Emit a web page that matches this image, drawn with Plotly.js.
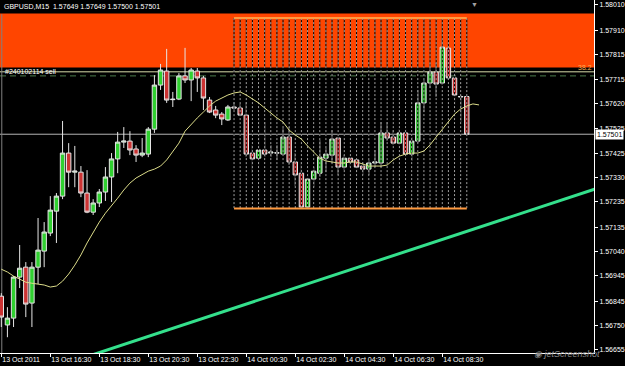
<!DOCTYPE html>
<html><head><meta charset="utf-8">
<script src="https://cdn.plot.ly/plotly-3.0.1.min.js"></script>
<style>html,body{margin:0;padding:0;background:#000;}#chart{width:625px;height:366px;}</style>
</head><body><div id="chart"></div>
<script>
const symbol = 'GBPUSD';
const timeframe = 'M15';
const day13Times = ['14:30','14:45','15:00','15:15','15:30','15:45','16:00','16:15','16:30','16:45','17:00','17:15','17:30','17:45','18:00','18:15','18:30','18:45','19:00','19:15','19:30','19:45','20:00','20:15','20:30','20:45','21:00','21:15','21:30','21:45','22:00','22:15','22:30','22:45','23:00','23:15','23:30','23:45'];
const day14Times = ['00:00','00:15','00:30','00:45','01:00','01:15','01:30','01:45','02:00','02:15','02:30','02:45','03:00','03:15','03:30','03:45','04:00','04:15','04:30','04:45','05:00','05:15','05:30','05:45','06:00','06:15','06:30','06:45','07:00','07:15','07:30','07:45','08:00','08:15','08:30','08:45','09:00','09:15','09:30'];
const maExtraTimes = ['2011-10-14 09:45','2011-10-14 10:00'];

const openPrices = [1.56865,1.56752,1.56779,1.56940,1.56979,1.56838,1.56979,1.57042,1.57113,1.57199,
1.57258,1.57427,1.57352,1.57352,1.57270,1.57195,1.57231,1.57274,1.57333,1.57404,
1.57470,1.57474,1.57443,1.57419,1.57423,1.57521,1.57694,1.57749,1.57639,1.57639,
1.57730,1.57714,1.57749,1.57722,1.57635,1.57596,1.57580,1.57557,1.57608,1.57604,
1.57576,1.57427,1.57407,1.57439,1.57427,1.57427,1.57423,1.57490,1.57392,1.57348,
1.57215,1.57325,1.57348,1.57407,1.57419,1.57486,1.57372,1.57407,1.57400,1.57376,
1.57364,1.57388,1.57388,1.57506,1.57490,1.57466,1.57506,1.57423,1.57474,1.57624,
1.57702,1.57745,1.57702,1.57839,1.57722,1.57647,1.57649];
const highPrices = [1.56877,1.56822,1.56944,1.57066,1.56999,1.56999,1.57172,1.57156,1.57258,1.57270,
1.57553,1.57466,1.57455,1.57376,1.57360,1.57246,1.57286,1.57372,1.57427,1.57510,
1.57529,1.57513,1.57458,1.57486,1.57529,1.57733,1.57777,1.57836,1.57667,1.57741,
1.57840,1.57761,1.57761,1.57730,1.57647,1.57612,1.57588,1.57616,1.57627,1.57620,
1.57627,1.57458,1.57557,1.57549,1.57458,1.57458,1.57525,1.57529,1.57427,1.57392,
1.57348,1.57372,1.57478,1.57447,1.57517,1.57490,1.57419,1.57411,1.57407,1.57392,
1.57400,1.57439,1.57549,1.57549,1.57517,1.57521,1.57521,1.57490,1.57675,1.57714,
1.57781,1.57781,1.57871,1.57851,1.57765,1.57655,1.57649];
const lowPrices = [1.56744,1.56704,1.56744,1.56897,1.56783,1.56744,1.56913,1.56979,1.57101,1.57074,
1.57246,1.57293,1.57293,1.57254,1.57191,1.57184,1.57215,1.57239,1.57235,1.57348,
1.57447,1.57419,1.57392,1.57411,1.57411,1.57506,1.57675,1.57624,1.57608,1.57635,
1.57702,1.57631,1.57667,1.57596,1.57584,1.57564,1.57537,1.57553,1.57596,1.57572,
1.57411,1.57348,1.57376,1.57411,1.57411,1.57400,1.57419,1.57380,1.57297,1.57211,
1.57211,1.57293,1.57333,1.57352,1.57388,1.57341,1.57360,1.57372,1.57352,1.57341,
1.57341,1.57372,1.57372,1.57474,1.57458,1.57458,1.57411,1.57396,1.57466,1.57588,
1.57682,1.57647,1.57694,1.57714,1.57616,1.57549,1.57500];
const closePrices = [1.56783,1.56779,1.56940,1.56975,1.56834,1.56979,1.57046,1.57117,1.57203,1.57258,
1.57427,1.57352,1.57356,1.57270,1.57195,1.57231,1.57274,1.57333,1.57404,1.57470,
1.57474,1.57439,1.57419,1.57427,1.57521,1.57694,1.57753,1.57635,1.57637,1.57730,
1.57714,1.57753,1.57722,1.57643,1.57588,1.57576,1.57561,1.57608,1.57604,1.57576,
1.57423,1.57404,1.57439,1.57423,1.57431,1.57428,1.57490,1.57392,1.57341,1.57215,
1.57325,1.57356,1.57411,1.57423,1.57482,1.57372,1.57407,1.57392,1.57372,1.57364,
1.57388,1.57392,1.57506,1.57486,1.57466,1.57506,1.57423,1.57474,1.57624,1.57702,
1.57745,1.57698,1.57843,1.57722,1.57655,1.57649,1.57501];
const maValues = [1.56971,1.56960,1.56944,1.56932,1.56920,1.56916,1.56913,1.56909,1.56901,1.56905,
1.56924,1.56952,1.56987,1.57027,1.57074,1.57117,1.57156,1.57191,1.57219,1.57250,
1.57282,1.57309,1.57329,1.57341,1.57356,1.57364,1.57376,1.57400,1.57431,1.57466,
1.57513,1.57541,1.57565,1.57588,1.57612,1.57631,1.57643,1.57655,1.57663,1.57667,
1.57655,1.57639,1.57624,1.57604,1.57584,1.57565,1.57549,1.57517,1.57498,1.57482,
1.57455,1.57431,1.57407,1.57396,1.57392,1.57388,1.57388,1.57392,1.57392,1.57384,
1.57376,1.57376,1.57376,1.57380,1.57400,1.57415,1.57423,1.57427,1.57427,1.57435,
1.57459,1.57490,1.57521,1.57553,1.57580,1.57600,1.57612,1.57620,1.57616];

const trendTimes = ['2011-10-13 17:30','2011-10-14 15:30'];
const trendPrices = [1.56612, 1.57310];
const zoneTop = 1.57975, zoneBottom = 1.57763;
const fiboLevel = 1.57746, fiboLabel = '38.2';
const orderPrice = 1.57730, orderLabel = '#240102114 sell';
const gridTop = 1.57957, gridBottom = 1.57209, gridFirstBar = 38;

const yTickVals = [1.58010,1.57910,1.57815,1.57715,1.57620,1.57525,1.57425,1.57330,1.57235,1.57135,1.57040,1.56945,1.56845,1.56750,1.56655];
const xTickTimes = ['2011-10-13 14:30','2011-10-13 16:30','2011-10-13 18:30','2011-10-13 20:30','2011-10-13 22:30','2011-10-14 00:30','2011-10-14 02:30','2011-10-14 04:30','2011-10-14 06:30','2011-10-14 08:30'];
const xTickText = ['13 Oct 2011','13 Oct 16:30','13 Oct 18:30','13 Oct 20:30','13 Oct 22:30','14 Oct 00:30','14 Oct 02:30','14 Oct 04:30','14 Oct 06:30','14 Oct 08:30'];

const barTimes = day13Times.map(t => '2011-10-13 ' + t).concat(day14Times.map(t => '2011-10-14 ' + t));
const last = closePrices.length - 1;
const FONT = 'Liberation Sans, Arial, sans-serif';

const gx = [], gy = [];
for (let i = gridFirstBar; i <= last; i++) { gx.push(barTimes[i], barTimes[i], null); gy.push(gridTop, gridBottom, null); }

const traces = [
  { type: 'candlestick', x: barTimes, open: openPrices, high: highPrices, low: lowPrices, close: closePrices,
    increasing: { line: { color: '#e6e6e6', width: 1 }, fillcolor: '#30d030' },
    decreasing: { line: { color: '#e6e6e6', width: 1 }, fillcolor: '#cc3333' },
    whiskerwidth: 0, hoverinfo: 'skip', showlegend: false },
  { type: 'scatter', mode: 'lines', x: gx, y: gy, line: { color: '#000', width: 1 }, hoverinfo: 'skip', showlegend: false },
  { type: 'scatter', mode: 'lines', x: gx, y: gy, line: { color: '#a0a0a0', width: 1, dash: '2px,2px' }, hoverinfo: 'skip', showlegend: false },
  { type: 'scatter', mode: 'lines', x: [barTimes[gridFirstBar], barTimes[last], null, barTimes[gridFirstBar], barTimes[last]],
    y: [gridTop, gridTop, null, gridBottom, gridBottom], line: { color: '#ff9a40', width: 2 }, hoverinfo: 'skip', showlegend: false },
  { type: 'scatter', mode: 'lines', x: barTimes.concat(maExtraTimes), y: maValues, line: { color: '#dcdc8a', width: 1 }, hoverinfo: 'skip', showlegend: false },
  { type: 'scatter', mode: 'lines', x: trendTimes, y: trendPrices, line: { color: '#34e08c', width: 3 }, hoverinfo: 'skip', showlegend: false }
];

const layout = {
  width: 625, height: 366,
  paper_bgcolor: '#000', plot_bgcolor: '#000',
  margin: { l: 0, r: 31, t: 0, b: 13, pad: 0 },
  showlegend: false,
  boxgap: 0.2, boxgroupgap: 0.1,
  title: { text: symbol + ',' + timeframe + '\u00a0 ' + [openPrices[last], highPrices[last], lowPrices[last], closePrices[last]].map(v => v.toFixed(5)).join(' '),
    font: { family: FONT, size: 7, color: '#ffffff' }, x: 4 / 625, xanchor: 'left', xref: 'container', y: 1 - 7 / 366, yanchor: 'middle', yref: 'container' },
  xaxis: { type: 'date', range: ['2011-10-13 14:26:49', '2011-10-14 14:41:33'], tickmode: 'array', tickvals: xTickTimes, ticktext: xTickText,
    ticks: 'outside', ticklen: 3, tickcolor: '#ffffff', showline: true, linecolor: '#ffffff', linewidth: 1, showgrid: false, zeroline: false,
    tickangle: 0, automargin: false,
    ticklabelposition: 'outside right', tickfont: { family: FONT, size: 7, color: '#ffffff' }, rangeslider: { visible: false }, fixedrange: true },
  yaxis: { side: 'right', range: [1.56642, 1.58028], tickmode: 'array', tickvals: yTickVals, ticktext: yTickVals.map(v => v.toFixed(5)),
    ticks: 'outside', ticklen: 3, tickcolor: '#ffffff', showline: true, linecolor: '#ffffff', linewidth: 1, showgrid: false, zeroline: false,
    automargin: false, tickfont: { family: FONT, size: 7, color: '#ffffff' }, fixedrange: true },
  shapes: [
    { type: 'rect', xref: 'paper', x0: 0, x1: 1, yref: 'y', y0: zoneBottom, y1: zoneTop, fillcolor: '#ff4500', line: { width: 0 }, layer: 'below' },
    { type: 'line', xref: 'paper', x0: 0, x1: 1, yref: 'y', y0: closePrices[last], y1: closePrices[last], line: { color: '#b4b4b4', width: 1 }, layer: 'below' },
    { type: 'line', xref: 'paper', x0: 0, x1: 1, yref: 'y', y0: fiboLevel, y1: fiboLevel, line: { color: '#d8dcaa', width: 1 }, layer: 'below' },
    { type: 'line', xref: 'paper', x0: 0, x1: 1, yref: 'y', y0: orderPrice, y1: orderPrice, line: { color: '#4c7c4c', width: 1, dash: '6px,4px' }, layer: 'below' },
    { type: 'line', xref: 'paper', x0: 0.003, x1: 0.003, yref: 'paper', y0: 0, y1: 0.96, line: { color: '#808080', width: 1 }, layer: 'below' }
  ],
  annotations: [
    { xref: 'paper', x: 1, xanchor: 'left', xshift: 1, yref: 'y', y: closePrices[last], yanchor: 'middle', text: closePrices[last].toFixed(5),
      bgcolor: '#ffffff', font: { family: FONT, size: 7, color: '#000000' }, showarrow: false, borderpad: 1 },
    { xref: 'paper', x: 4 / 594, xanchor: 'left', yref: 'y', y: orderPrice, yanchor: 'bottom', text: orderLabel,
      font: { family: FONT, size: 7, color: '#ffffff' }, showarrow: false, borderpad: 0 },
    { xref: 'paper', x: 1, xanchor: 'right', xshift: -1, yref: 'y', y: fiboLevel, yanchor: 'bottom', text: fiboLabel,
      font: { family: FONT, size: 7, color: '#ffb050' }, showarrow: false, borderpad: 0 },
    { xref: 'paper', x: 474 / 594, xanchor: 'center', yref: 'paper', y: 1, yanchor: 'top', text: '▼',
      font: { family: FONT, size: 7, color: '#a0a0a0' }, showarrow: false, borderpad: 0 },
    { xref: 'paper', x: 533 / 594, xanchor: 'left', yref: 'paper', y: 0, yshift: -1, yanchor: 'middle', text: '<i>◉ jetScreenshot</i>',
      font: { family: FONT, size: 9, color: '#8c8c8c' }, showarrow: false, borderpad: 0 }
  ]
};

Plotly.newPlot('chart', traces, layout, { staticPlot: true, displayModeBar: false });
</script>
</body></html>
